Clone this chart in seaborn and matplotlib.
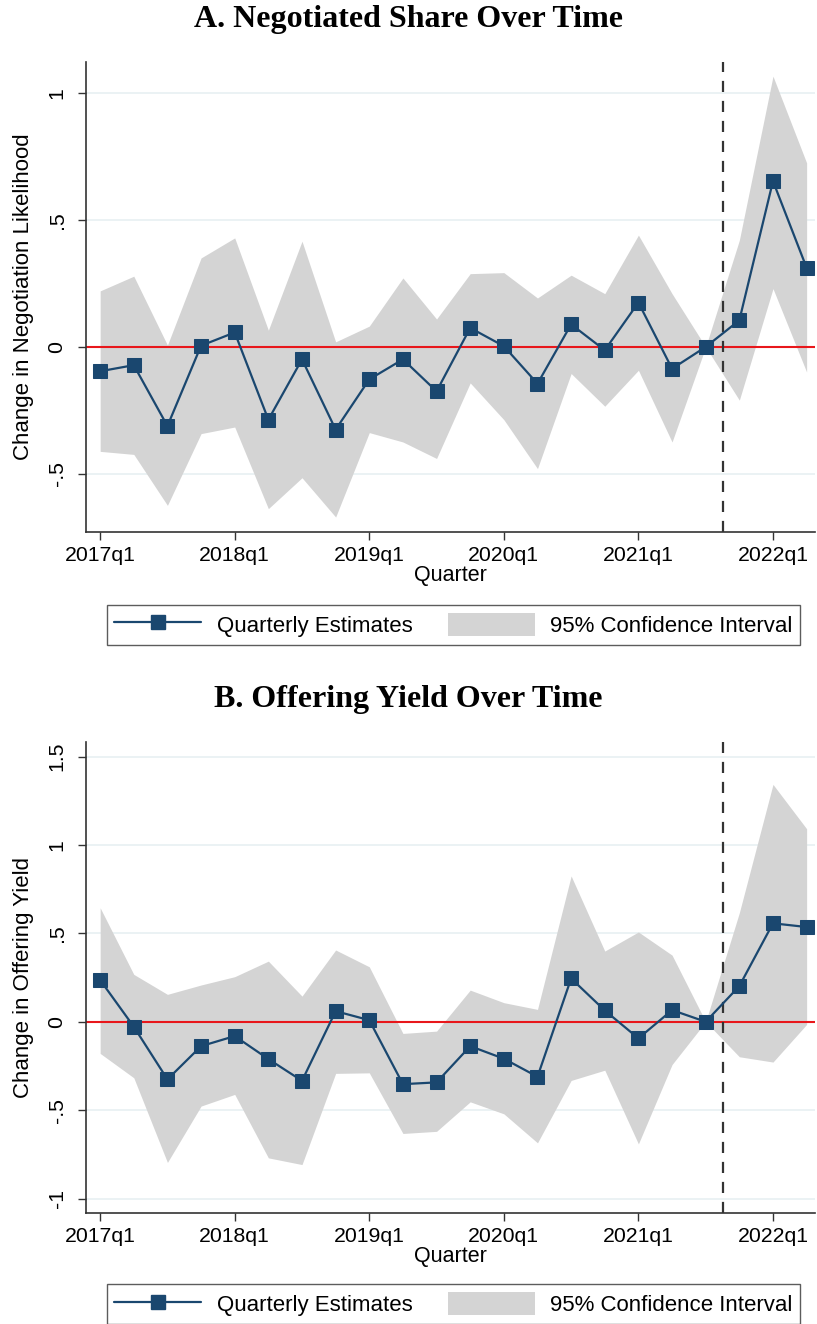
import numpy as np
import pandas as pd
import seaborn as sns
import matplotlib.pyplot as plt
from matplotlib.lines import Line2D
from matplotlib.patches import Patch

# quarters 2017q1 .. 2022q2
quarters = [f"{y}q{q}" for y in range(2017, 2023) for q in range(1, 5)][:22]

# Panel A: negotiated share
neg_est = [-0.096, -0.072, -0.312, 0.005, 0.057, -0.287, -0.049, -0.326, -0.128, -0.049, -0.175,
           0.075, 0.003, -0.145, 0.089, -0.013, 0.175, -0.086, 0.0, 0.105, 0.654, 0.312]
neg_hi = [0.221, 0.279, 0.007, 0.351, 0.43, 0.066, 0.417, 0.02, 0.082, 0.272, 0.11,
          0.289, 0.293, 0.193, 0.283, 0.21, 0.441, 0.21, 0.0, 0.421, 1.068, 0.726]
neg_lo = [-0.412, -0.424, -0.625, -0.342, -0.316, -0.638, -0.516, -0.671, -0.338, -0.375, -0.44,
          -0.142, -0.287, -0.48, -0.105, -0.234, -0.092, -0.375, 0.0, -0.21, 0.23, -0.099]

# Panel B: offering yield
yld_est = [0.236, -0.028, -0.326, -0.138, -0.081, -0.211, -0.334, 0.06, 0.009, -0.353, -0.343,
           -0.138, -0.209, -0.311, 0.245, 0.064, -0.094, 0.066, 0.0, 0.202, 0.557, 0.536]
yld_hi = [0.645, 0.268, 0.155, 0.208, 0.255, 0.343, 0.145, 0.406, 0.311, -0.066, -0.053,
          0.179, 0.108, 0.07, 0.825, 0.4, 0.508, 0.377, 0.0, 0.617, 1.343, 1.092]
yld_lo = [-0.179, -0.317, -0.796, -0.477, -0.411, -0.770, -0.808, -0.292, -0.289, -0.632, -0.62,
          -0.453, -0.521, -0.685, -0.332, -0.274, -0.691, -0.242, 0.0, -0.198, -0.228, -0.015]

xtick_labels = ["2017q1", "2018q1", "2019q1", "2020q1", "2021q1", "2022q1"]
event_q = 18.5  # between 2021q3 and 2021q4

navy = "#1a476f"
ci_gray = "#d4d4d4"
grid_c = "#e8f0f2"

sns.set_style("white")
plt.rcParams['font.family'] = ['Liberation Sans', 'DejaVu Sans']
plt.rcParams.update({'text.color': 'black', 'axes.labelcolor': 'black',
                     'xtick.color': 'black', 'ytick.color': 'black'})

fig = plt.figure(figsize=(8.17, 13.24), dpi=100)


def panel(rect, est, lo, hi, title, ylabel, yticks, ylabels, ylim, title_y, leg_y):
    ax = fig.add_axes(rect)
    df = pd.DataFrame({'q': np.arange(len(quarters)), 'est': est, 'lo': lo, 'hi': hi})
    ax.fill_between(df['q'], df['lo'], df['hi'], color=ci_gray, lw=0, zorder=1)
    for yt in yticks:
        ax.axhline(yt, color=grid_c, lw=1.2, zorder=0)
    ax.axhline(0, color="#e8171b", lw=1.5, zorder=2)
    ax.axvline(event_q, color="#333333", lw=1.6, ls=(0, (5, 4)), zorder=2)
    sns.lineplot(data=df, x='q', y='est', ax=ax, color=navy, lw=1.6, marker='s',
                 markersize=10, markeredgecolor=navy, zorder=3)
    ax.set_xlim(-0.42, 21.25)
    ax.set_ylim(*ylim)
    ax.set_xticks(range(0, 24, 4))
    ax.set_xticklabels(xtick_labels, fontsize=15.3)
    ax.set_yticks(yticks)
    ax.set_yticklabels(ylabels, rotation=90, va='center', fontsize=15.3)
    ax.tick_params(axis='both', direction='out', length=6, width=1, color='#333333',
                   left=True, bottom=True, pad=4)
    ax.tick_params(axis='y', pad=8)
    ax.set_xlabel("Quarter", fontsize=15.5, labelpad=0)
    ax.set_ylabel(ylabel, fontsize=16, labelpad=10)
    for s in ['top', 'right']:
        ax.spines[s].set_visible(False)
    for s in ['left', 'bottom']:
        ax.spines[s].set_color('#333333')
        ax.spines[s].set_linewidth(1.2)
    fig.text(0.5, title_y, title, ha='center', va='center', fontsize=23,
             fontweight='bold', family='Liberation Serif')
    handles = [Line2D([0], [0], color=navy, lw=1.6, marker='s', markersize=10),
               Patch(facecolor=ci_gray, edgecolor='none')]
    fig.legend(handles, ["Quarterly Estimates", "95% Confidence Interval"], ncol=2,
               loc='center', bbox_to_anchor=(0.555, leg_y), fontsize=16, frameon=True,
               fancybox=False, edgecolor='#333333', handlelength=3.9, handleheight=1.2,
               handletextpad=0.7, columnspacing=1.6, borderpad=0.35)
    return ax


panel([0.1053, 0.5982, 0.8923, 0.355], neg_est, neg_lo, neg_hi,
      "A. Negotiated Share Over Time", "Change in Negotiation Likelihood",
      [-0.5, 0, 0.5, 1], ["-.5", "0", ".5", "1"], (-0.73, 1.124), 0.985, 1 - 625 / 1324)

panel([0.1053, 0.0841, 0.8923, 0.3555], yld_est, yld_lo, yld_hi,
      "B. Offering Yield Over Time", "Change in Offering Yield",
      [-1, -0.5, 0, 0.5, 1, 1.5], ["-1", "-.5", "0", ".5", "1", "1.5"], (-1.08, 1.583),
      1 - 700 / 1324, 1 - 1304 / 1324)

fig.savefig("out.png", dpi=100)
